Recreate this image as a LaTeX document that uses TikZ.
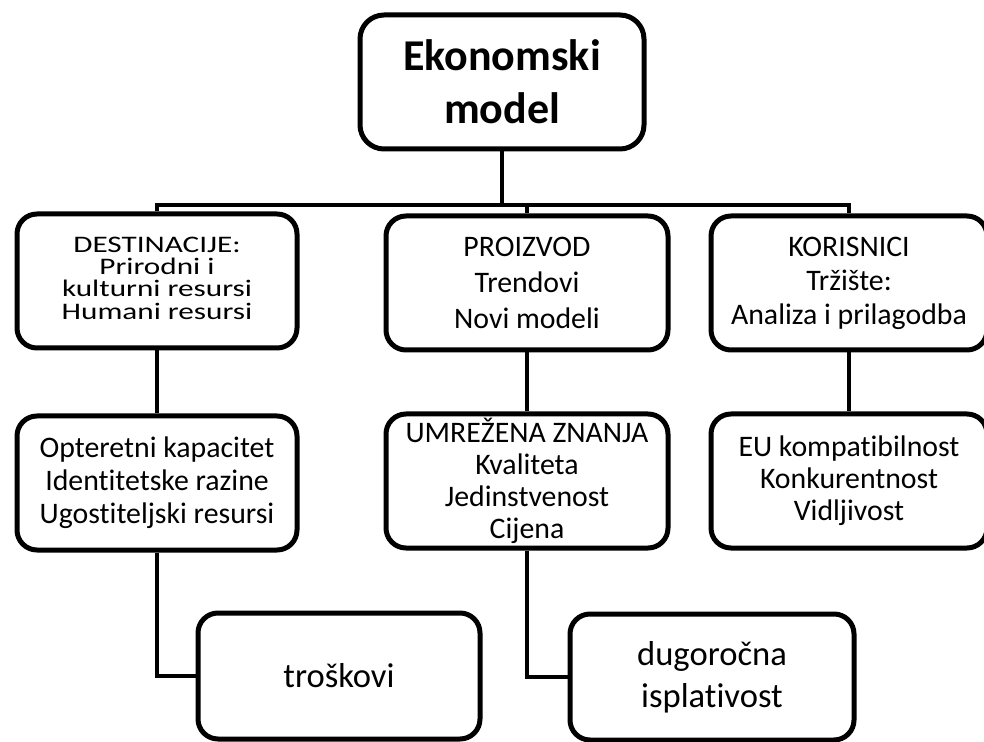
\documentclass[tikz,border=0pt]{standalone}
\usepackage{fontspec}
\setmainfont{Carlito}[Ligatures=NoCommon]
\usepackage{graphicx}
\usetikzlibrary{positioning}
\tikzstyle{block} = [rectangle, rounded corners=10pt, minimum width=140pt, minimum height=67pt, text centered, align=center, inner sep=2pt, draw=black, line width=2.5pt, font=\fontsize{14.9}{17}\selectfont]
\tikzstyle{headbox} = [block, rounded corners=12pt, minimum width=142pt, font=\bfseries\fontsize{22}{26.5}\selectfont]
\tikzstyle{result} = [block, minimum height=63pt, font=\fontsize{17.3}{21}\selectfont]
\tikzstyle{conn} = [line width=1.6pt]

\begin{document}
\begin{tikzpicture}[x=0.5pt, y=-0.5pt, node distance=99pt]
	\useasboundingbox (0,0) rectangle (984,742);
	%blokovi
	\node (model) [headbox] at (502,82) {Ekonomski\\model};
	\node (dest) [block] at (157,281) {\scalebox{1}[0.76]{\fontsize{15.6}{12.6}\selectfont\begin{tabular}{@{}c@{}}DESTINACIJE:\\Prirodni i\\kulturni resursi\\Humani resursi\end{tabular}}};
	\node (proizvod) [block, minimum width=141pt, font=\fontsize{14.9}{18}\selectfont] at (527,283) {PROIZVOD\\Trendovi\\Novi modeli};
	\node (korisnici) [block, minimum width=138pt] at (849,283) {KORISNICI\\Tržište:\\Analiza i prilagodba};
	\node (kapacitet) [block, below of=dest, yshift=-2pt, font=\fontsize{14.9}{16.5}\selectfont] {Opteretni kapacitet\\Identitetske razine\\Ugostiteljski resursi};
	\node (znanja) [block, minimum width=141pt, below of=proizvod, font=\fontsize{14.9}{16}\selectfont] {UMREŽENA ZNANJA\\Kvaliteta\\Jedinstvenost\\Cijena};
	\node (eu) [block, minimum width=138pt, below of=korisnici, font=\fontsize{14.9}{16}\selectfont] {EU kompatibilnost\\Konkurentnost\\Vidljivost};
	\node (troskovi) [result, minimum width=141pt] at (339,676) {troškovi};
	\node (isplativost) [result, minimum width=142pt] at (712,677) {dugoročna\\isplativost};

	%veze
	\coordinate (bus) at (502,205);
	\draw [conn] (model) -- (bus);
	\draw [conn] (dest) |- (bus) -| (korisnici);
	\draw [conn] (bus -| proizvod) -- (proizvod);
	\draw [conn] (dest) -- (kapacitet);
	\draw [conn] (proizvod) -- (znanja);
	\draw [conn] (korisnici) -- (eu);
	\draw [conn] (kapacitet) |- (troskovi);
	\draw [conn] (znanja) |- (isplativost);
\end{tikzpicture}
\end{document}
